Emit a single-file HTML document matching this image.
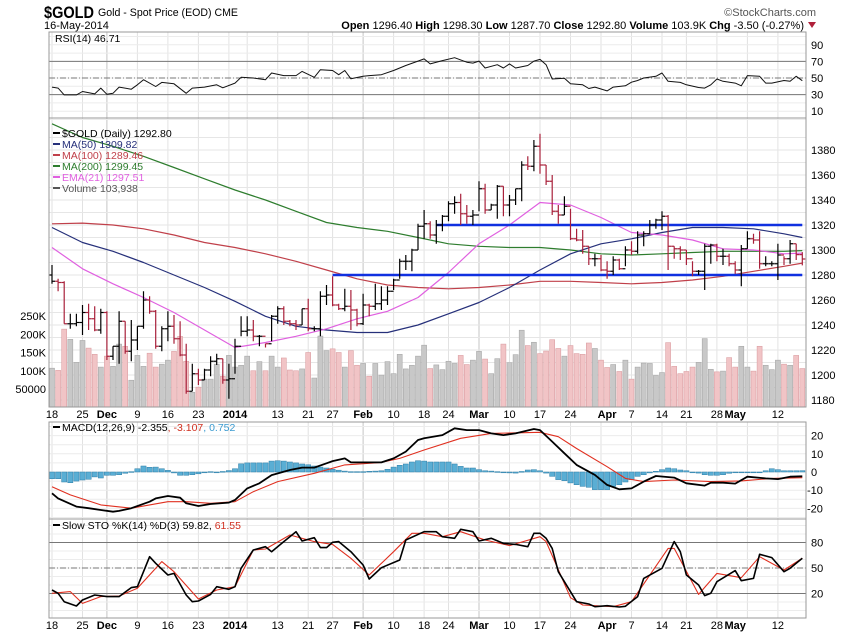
<!DOCTYPE html>
<html><head><meta charset="utf-8">
<style>
html,body{margin:0;padding:0;background:#fff;}
svg{display:block;font-family:"Liberation Sans",sans-serif;}
</style></head>
<body>
<svg id="chart" width="850" height="633" viewBox="0 0 850 633" xmlns="http://www.w3.org/2000/svg">
<g>
<text x="44" y="18" font-size="17" font-weight="bold" textLength="50" lengthAdjust="spacingAndGlyphs">$GOLD</text>
<text x="98" y="16" font-size="11" textLength="140" lengthAdjust="spacingAndGlyphs">Gold - Spot Price (EOD) CME</text>
<text x="44" y="29" font-size="11">16-May-2014</text>
<text x="816" y="16" font-size="11" text-anchor="end" fill="#555">©StockCharts.com</text>
<text x="804" y="29" font-size="11" text-anchor="end"><tspan font-weight="bold">Open</tspan> 1296.40 <tspan font-weight="bold">High</tspan> 1298.30 <tspan font-weight="bold">Low</tspan> 1287.70 <tspan font-weight="bold">Close</tspan> 1292.80 <tspan font-weight="bold">Volume</tspan> 103.9K <tspan font-weight="bold">Chg</tspan> -3.50 (-0.27%)</text>
<polygon points="808,22 816,22 812,28" fill="#b0203a"/>
</g>
<g id="grid"></g>
<g id="vol"></g>
<g id="lines"></g>
<g id="bars"></g>
<g id="frames"></g>
<g id="labels"></g>
</svg>
<script>
const highs=[1288,1277,1275,1249,1249,1256,1257,1255,1253,1251,
1223,1251,1243,1244,1239,1267,1263,1252,1239,1251,
1248,1243,1225,1209,1205,1205,1215,1217,1213,1209,
1229,1247,1247,1244,1232,1225,1248,1255,1255,1244,
1244,1253,1261,1239,1267,1272,1279,1257,1269,1268,
1253,1265,1257,1273,1271,1271,1277,1293,1296,1301,
1321,1332,1323,1324,1328,1339,1343,1345,1336,1332,
1355,1353,1337,1352,1351,1344,1349,1371,1375,1388,
1393,1368,1360,1336,1343,1333,1317,1316,1303,1297,
1296,1291,1295,1293,1303,1307,1315,1315,1324,1325,
1331,1328,1303,1303,1300,1291,1284,1305,1305,1305,
1301,1297,1291,1304,1315,1313,1315,1295,1291,1305,
1295,1308,1305,1298.3];
const lows=[1273,1267,1241,1237,1239,1232,1236,1235,1233,1212,
1212,1209,1217,1211,1220,1237,1249,1221,1219,1227,
1225,1215,1185,1187,1192,1196,1199,1208,1193,1181,
1201,1231,1231,1227,1223,1222,1227,1241,1240,1239,
1236,1240,1235,1235,1231,1256,1255,1252,1251,1236,
1239,1240,1247,1252,1252,1256,1268,1277,1284,1283,
1300,1309,1309,1305,1315,1323,1329,1320,1321,1320,
1331,1329,1332,1325,1327,1327,1336,1339,1364,1363,
1361,1352,1328,1321,1328,1308,1307,1297,1288,1287,
1283,1277,1280,1284,1287,1296,1297,1303,1313,1317,
1316,1284,1293,1292,1288,1279,1280,1268,1289,1291,
1288,1287,1281,1271,1301,1305,1285,1287,1287,1276,
1288,1289,1292,1287.7];
const closes=[1275,1274,1241,1241,1242,1250,1245,1236,1250,1215,
1223,1243,1219,1228,1239,1260,1251,1223,1237,1239,
1229,1216,1187,1201,1196,1204,1211,1213,1196,1197,
1223,1235,1236,1231,1231,1225,1247,1253,1243,1241,
1240,1253,1237,1237,1263,1264,1256,1253,1255,1252,
1241,1256,1255,1257,1260,1267,1276,1291,1291,1300,
1319,1321,1312,1320,1327,1337,1338,1329,1327,1328,
1349,1332,1336,1351,1336,1340,1349,1368,1367,1383,
1368,1355,1331,1328,1335,1309,1308,1303,1293,1293,
1284,1283,1292,1285,1300,1299,1312,1313,1320,1324,
1327,1303,1301,1300,1293,1283,1283,1303,1304,1295,
1295,1289,1284,1301,1309,1308,1289,1289,1289,1296,
1293,1305,1296.3,1292.8];
const volumes=[107,101,214,186,123,183,162,145,110,140,112,173,167,74,142,112,148,110,118,129,153,194,126,41,55,77,77,118,85,142,110,
115,140,100,125,100,140,110,135,102,100,105,150,80,195,155,160,150,110,155,115,120,85,120,88,125,92,145,105,115,140,170,
106,116,103,126,120,142,117,129,153,132,92,133,173,122,144,211,169,178,147,154,185,161,140,169,147,145,176,161,129,109,117,98,129,77,110,121,120,87,95,177,112,92,98,110,123,188,104,97,99,136,110,167,110,99,167,115,103,129,118,115,142,106];
const maIdx=[0,5,10,15,20,25,30,35,40,45,50,55,60,65,70,75,80,85,90,95,100,105,110,115,120,123];
const ma50=[1318,1306,1299,1290,1280,1270,1259,1247,1239,1236,1234,1234,1240,1249,1258,1270,1284,1297,1305,1309,1314,1318,1318,1317,1313,1310];
const ma100=[1321,1321.5,1320,1317,1312,1306,1302,1297,1291,1284,1277,1272,1270,1269,1270,1272,1275,1275,1274,1273,1274,1276,1279,1283,1287,1289.5];
const ma200=[1401,1390,1383,1375,1366,1357,1348,1340,1331,1322,1318,1315,1310,1305,1303,1302,1302,1300,1297,1296,1297,1298,1299,1299,1299,1299.5];
const ema21=[1302,1285,1273,1262,1250,1236,1222,1226,1231,1237,1245,1251,1262,1282,1305,1320,1338,1336,1326,1314,1312,1308,1301,1300,1297,1297.5];
const rsiIdx=[0,1,2,4,5,7,8,9,10,11,13,14,15,17,18,20,22,23,25,27,28,30,31,33,35,36,38,40,41,43,44,46,47,48,49,51,52,54,56,58,60,61,62,64,66,68,69,70,71,73,74,75,76,78,79,80,81,82,84,85,87,88,89,91,92,94,95,96,97,99,100,101,103,104,106,107,108,109,110,112,113,114,116,117,118,120,121,122,123];
const rsiVal=[39,37.8,29.6,29.6,33.7,30.8,37.8,30.4,31.6,39,36.5,41.8,48,39.8,44.7,43,31.6,37.8,39,41.8,38.2,43.9,50.8,50,48,56,52.9,52.9,58,50.8,60,59,54,59,49,52,52.9,54,59,65,70.4,73,67,71,74.5,69,68,70.4,62,66,62,67,62,65,70.4,72.4,66,48.8,49.6,43,41.8,37.3,39,34.5,39,40.6,45,47,50,52,56,46,44.7,41.8,38.6,37.8,41.8,48.8,46,43.9,40.6,52.9,52,43.9,43.9,47,46,52,46.7];
const macdIdx=[0,1,4,6,8,10,11,13,16,17,19,21,22,24,26,29,30,32,34,36,39,41,43,45,46,48,49,52,54,56,58,60,61,64,66,68,70,72,74,76,79,80,82,84,86,89,91,93,95,97,99,102,104,107,108,110,112,114,117,119,121,123];
const macdVal=[-11.7,-14.5,-19,-19.9,-20.9,-21.8,-21.4,-19.9,-16.3,-14.5,-13.2,-14.1,-17.2,-18.7,-17.6,-16.8,-15.4,-9,-6.2,-1.7,1.1,2.4,2.4,4.8,6,7.5,5.3,5.3,5.3,7.5,11.2,17.6,18.5,20.3,24,23,23,21.2,20.3,21.2,23.6,23,16.7,10.3,3.9,-1.6,-7.1,-9.5,-9,-5.3,-2.2,-3.1,-6.2,-7.5,-5.9,-5.9,-6.4,-2.6,-3.5,-3.9,-2.6,-2.355];
const sigIdx=[0,3,8,13,19,22,26,30,33,37,43,48,54,57,61,67,72,80,83,86,91,94,97,102,108,113,118,123];
const sigVal=[-8.1,-12.6,-18.1,-19.9,-16.3,-16.3,-17.2,-16.3,-10.8,-5.3,-0.7,3.9,5.3,7.5,12.1,18.5,21.2,21.8,19.4,12.9,2.9,-3.5,-5.3,-4.4,-5.3,-4.9,-3.5,-3.107];
const histVal=[-3.7,-3.7,-5.5,-5.9,-5,-4.4,-4,-2.7,-3.3,-1.8,-1.8,-1.5,-0.7,0.2,1.8,3.3,2.6,2.7,1.8,0.9,-0.5,-1.8,-1.8,-1.5,-1,-0.4,0.2,-0.2,0.3,0.8,
1.8,4.5,5,5,5,5,6,6.2,6,5.5,5,4.4,4,3.3,2.7,2.2,1.5,1,0.5,0.2,0.2,0.2,0.4,0.5,0.7,1.5,2.7,3.7,4.4,5.5,6.2,6,
5.5,5.5,5.5,5.5,4.4,3.1,2.2,2.2,1.3,0.7,0.5,0.2,0,-0.5,-0.6,0.3,1.1,1.3,0.7,-0.6,-2.4,-4.2,-4.8,-6,-7,-7.9,-8.4,-9.7,-9.7,-9.7,-7.9,-7,-5.5,-4.2,-2.4,-1.5,-0.5,0.4,1.3,2.2,1.8,1.1,0.7,0,-0.6,-1.5,-1.8,-1.8,-1.5,-0.7,-0.4,0,0,0,-0.4,0.7,1.8,1.3,0.7,0.7,0.7,0.752];
const stoKIdx=[0,1,2,4,5,7,9,11,13,14,16,17,19,20,22,23,24,26,27,29,30,31,33,35,36,38,40,41,43,44,45,46,47,49,51,52,53,54,57,58,61,63,64,66,67,69,70,72,74,76,78,79,80,81,82,83,85,86,88,89,91,93,94,96,97,100,102,103,104,106,107,108,109,112,113,115,116,118,120,121,123];
const stoKVal=[24.1,20.2,10.4,5.3,12.4,18.2,16.3,16.3,26.9,28,63.3,55.5,41.8,43.7,18.2,10.4,11.2,19,28,24.9,28,49.6,71.2,75.1,69.2,81,92.7,81.8,85.7,74,74,80.2,81,69.2,53.5,37.1,43.7,50.4,59.4,82.9,92.7,92.7,86.8,84.9,95.5,92.7,81.8,84.9,79,77.8,75.1,90.8,90.8,84.9,73.1,45.7,22.1,10.4,7.6,4.5,5.7,4.1,4.9,16.3,37.8,49.6,81,69.2,41.8,30,17.5,20.2,33.9,46.9,35.1,37.8,66.1,62.2,45.7,49.6,61.4,59.8];
const stoDIdx=[0,3,5,8,11,14,18,20,24,27,30,33,35,39,43,46,49,52,56,59,61,64,67,71,75,80,81,85,87,92,95,101,102,106,109,113,116,120,123];
const stoDVal=[20.2,22.2,8.4,16.3,17.1,26.1,57.5,45.7,13.5,24.1,28,71.2,72.4,88.8,81,77.8,61.4,41.8,69.2,90.8,90.8,86.8,92.7,82.9,76.3,86.8,81,15.1,6.5,4.5,10.4,73.1,73.1,19,43.7,38.6,63.3,47.6,61.55];
const dateIdx=[0,5,9,14,19,24,30,37,42,46,51,56,61,65,70,75,80,85,91,95,100,104,109,112,119];
const dateLbl=['18','25','Dec','9','16','23','2014','13','21','27','Feb','10','18','24','Mar','10','17','24','Apr','7','14','21','28','May','12'];
const gridIdx=[0,5,9,14,19,24,29,32,37,42,46,51,56,61,65,70,75,80,85,90,95,100,104,109,114,119];
const monthIdx=[9,30,51,70,91,112];
const priceTicks=[1180,1200,1220,1240,1260,1280,1300,1320,1340,1360,1380];
const volTicks=[50,100,150,200,250];
const volTickLbl=['50000','100K','150K','200K','250K'];
const rsiTicks=[90,70,50,30,10];
const macdTicks=[20,10,0,-10,-20];
const stoTicks=[80,50,20];
const supportLevel=1280, resistLevel=1320, supportStart=46, resistStart=63;

const NS='http://www.w3.org/2000/svg';
const L=49,R=806;
const X=i=>52+6.1*i;
const yP=p=>150+(1380-p)*1.25;
const yV=v=>407.25-v*0.365;
const yR=v=>78-(v-50)*0.83;
const yM=v=>472-v*1.82;
const yS=v=>568-(v-50)*0.85;
function mk(tag,attrs,parent,txt){const e=document.createElementNS(NS,tag);for(const k in attrs)e.setAttribute(k,attrs[k]);if(txt!==undefined)e.textContent=txt;document.getElementById(parent).appendChild(e);return e;}
const panels=[[32,118],[118,407],[422,519],[519,618]];

panels.forEach(([t,b])=>{
  gridIdx.forEach(i=>{const m=monthIdx.includes(i);
    const g=mk('line',{x1:X(i),x2:X(i),y1:t,y2:b,stroke:m?'#c4c4c4':'#e2e2e2','stroke-width':1},'grid');
    
    });
});
for(let p=1180;p<=1390;p+=10){const g=mk('line',{x1:L,x2:R,y1:yP(p),y2:yP(p),stroke:'#e6e6e6'},'grid');
  
  }
for(let v=0;v<=100;v+=10){const g=mk('line',{x1:L,x2:R,y1:yR(v),y2:yR(v),stroke:'#ececec'},'grid');
  
  
  const s=mk('line',{x1:L,x2:R,y1:yS(v),y2:yS(v),stroke:'#ececec'},'grid');
  
  }
for(let v=-25;v<=25;v+=5){const g=mk('line',{x1:L,x2:R,y1:yM(v),y2:yM(v),stroke:'#ececec'},'grid');
  
  }

[[yR(70),'none'],[yR(30),'none'],[yR(50),'6,2,1,2']].forEach(([y,d])=>{const l=mk('line',{x1:L,x2:R,y1:y,y2:y,stroke:'#777','stroke-dasharray':d},'grid');
  
  });
[[yS(80),'none'],[yS(20),'none'],[yS(50),'6,2,1,2']].forEach(([y,d])=>{const l=mk('line',{x1:L,x2:R,y1:y,y2:y,stroke:'#777','stroke-dasharray':d},'grid');
  
  });

volumes.forEach((v,i)=>{const up=i===0||closes[i]>=closes[i-1];
  const r=mk('rect',{x:X(i)-2.5,y:yV(v),width:5,height:407-yV(v),fill:up?'#c8c8c8':'#f1c4c6',stroke:up?'#a8a8a8':'#dca0a4','stroke-width':0.6},'vol');
  
  });

histVal.forEach((v,i)=>{const y0=yM(0),y1=yM(v);
  const r=mk('rect',{x:X(i)-2.6,y:Math.min(y0,y1),width:5.2,height:Math.max(0.8,Math.abs(y1-y0)),fill:'#5aaed4',stroke:'#2f7fa8','stroke-width':0.5},'vol');
  
  });

function poly(idx,vals,yf,color,w,name){
  const pts=idx.map((i,k)=>X(i).toFixed(1)+','+yf(vals[k]).toFixed(1)).join(' ');
  const p=mk('polyline',{points:pts,fill:'none',stroke:color,'stroke-width':w,'stroke-linejoin':'round'},'lines');
  
  
  return p;
}
const defs=mk('defs',{},'lines');
const cp=document.createElementNS(NS,'clipPath');cp.setAttribute('id','pc');
const cr=document.createElementNS(NS,'rect');cr.setAttribute('x',L);cr.setAttribute('y',119);cr.setAttribute('width',R-L);cr.setAttribute('height',288);
cp.appendChild(cr);defs.appendChild(cp);
[poly(maIdx,ma200,yP,'#2e7d2e',1.2,'ma200-line'),
 poly(maIdx,ma100,yP,'#c0404a',1.2,'ma100-line'),
 poly(maIdx,ma50,yP,'#26307a',1.2,'ma50-line'),
 poly(maIdx,ema21,yP,'#e060e0',1.2,'ema21-line')].forEach(p=>p.setAttribute('clip-path','url(#pc)'));
const s1=mk('line',{x1:X(supportStart),x2:X(123),y1:yP(supportLevel),y2:yP(supportLevel),stroke:'#1030e0','stroke-width':2.5},'lines');


const s2=mk('line',{x1:X(resistStart),x2:X(123),y1:yP(resistLevel),y2:yP(resistLevel),stroke:'#1030e0','stroke-width':2.5},'lines');


poly(rsiIdx,rsiVal,yR,'#111',1,'rsi-line');
poly(sigIdx,sigVal,yM,'#e03020',1.1,'macd-signal-line');
poly(macdIdx,macdVal,yM,'#000',1.8,'macd-line');
poly(stoDIdx,stoDVal,yS,'#e03020',1.1,'sto-d-line');
poly(stoKIdx,stoKVal,yS,'#000',1.6,'sto-k-line');

closes.forEach((c,i)=>{const o=i?closes[i-1]:1280;const up=i===0||c>=closes[i-1];const col=up?'#000':'#a8203a';
  const g=document.createElementNS(NS,'g');
  
  
  const x=X(i);
  [[x,yP(highs[i]),x,yP(lows[i])],[x-3,yP(o),x,yP(o)],[x,yP(c),x+3,yP(c)]].forEach(a=>{const l=document.createElementNS(NS,'line');
    l.setAttribute('x1',a[0]);l.setAttribute('y1',a[1]);l.setAttribute('x2',a[2]);l.setAttribute('y2',a[3]);l.setAttribute('stroke',col);l.setAttribute('stroke-width',1.2);g.appendChild(l);});
  document.getElementById('bars').appendChild(g);
});

panels.forEach(([t,b])=>{const r=mk('rect',{x:L,y:t,width:R-L,height:b-t,fill:'none',stroke:'#999','stroke-width':1},'frames');
  
  });

function txt(x,y,s,o){const t=mk('text',Object.assign({x:x,y:y,'font-size':11},o||{}),'labels',s);return t;}
priceTicks.forEach(p=>{const t=txt(811,yP(p)+4,String(p));
  
  });
volTicks.forEach((v,k)=>{const t=txt(46,yV(v)+4,volTickLbl[k],{'text-anchor':'end'});
  
  });
rsiTicks.forEach(v=>{const t=txt(811,yR(v)+4,String(v));
  
  });
macdTicks.forEach(v=>{const t=txt(v<0?807:811,yM(v)+4,String(v));
  
  });
stoTicks.forEach(v=>{const t=txt(811,yS(v)+4,String(v));
  
  });
[418,629].forEach(y=>{dateIdx.forEach((i,k)=>{const b=monthIdx.includes(i);
  const t=txt(X(i),y,dateLbl[k],{'text-anchor':'middle','font-weight':b?'bold':'normal'});
  
  });});

const leg=[[55,42,'RSI(14) 46.71','#000'],[62,137,'$GOLD (Daily) 1292.80','#000'],[62,148,'MA(50) 1309.82','#26307a'],[62,159,'MA(100) 1289.46','#c0404a'],[62,170,'MA(200) 1299.45','#2e7d2e'],[62,181,'EMA(21) 1297.51','#e060e0'],[62,192,'Volume 103,938','#555']];
leg.forEach(([x,y,s,c])=>{const t=txt(x,y,s,{fill:c,'font-size':10.5});
  
  
  if(c!=='#000'||s.startsWith('$')){const m=mk('line',{x1:53,x2:60,y1:y-4,y2:y-4,stroke:c,'stroke-width':2},'labels');
  
  }});
const mt=txt(62,431,'',{'font-size':10.5});


mt.innerHTML='<tspan>MACD(12,26,9) -2.355</tspan><tspan fill="#d03020">, -3.107</tspan><tspan fill="#3a9ad0">, 0.752</tspan>';
const ml=mk('line',{x1:53,x2:60,y1:427,y2:427,stroke:'#000','stroke-width':2},'labels');


const st=txt(62,529,'',{'font-size':10.5});


st.innerHTML='<tspan>Slow STO %K(14) %D(3) 59.82,</tspan><tspan fill="#d03020"> 61.55</tspan>';
const sl=mk('line',{x1:53,x2:60,y1:525,y2:525,stroke:'#000','stroke-width':2},'labels');


</script>
</body></html>
